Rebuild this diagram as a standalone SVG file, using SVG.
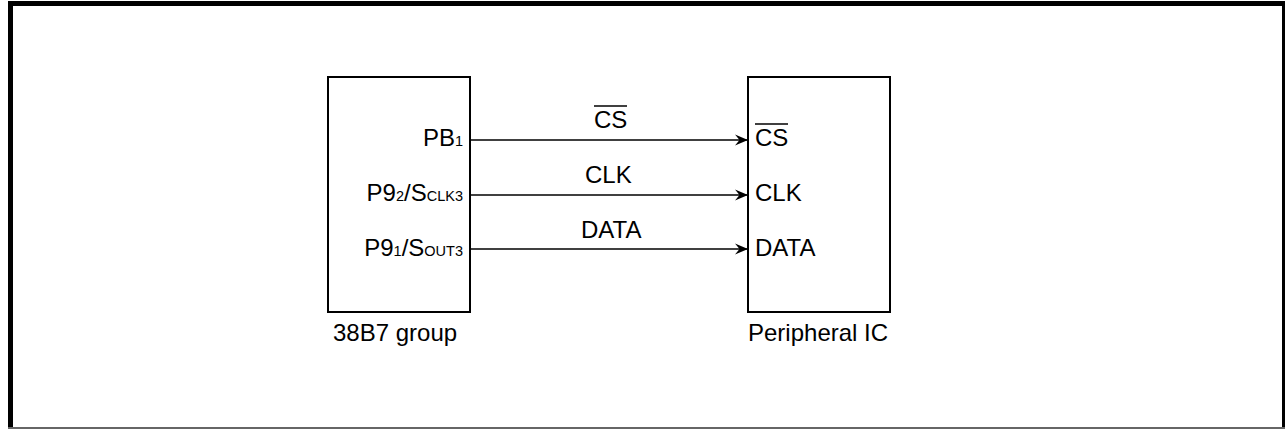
<svg xmlns="http://www.w3.org/2000/svg" width="1285" height="429" viewBox="0 0 1285 429">
<style>
text{font-family:"Liberation Sans",Arial,sans-serif;font-size:24px;fill:#000}
.sub{font-size:14.5px}
.box{fill:#fff;stroke:#000;stroke-width:2}
.wire{stroke:#000;stroke-width:1.3;fill:none}
.ov{stroke:#000;stroke-width:1.5}
</style>
<defs>
<marker id="arr" markerUnits="userSpaceOnUse" markerWidth="14" markerHeight="12" refX="13" refY="6" orient="auto">
<path d="M13,6 L0,0.5 L4.5,6 L0,11.5 Z" fill="#000"/>
</marker>
</defs>
<rect width="1285" height="429" fill="#fff"/>
<g id="frame">
<rect x="8" y="1" width="1277" height="5" fill="#000"/>
<rect x="8" y="1" width="5" height="428" fill="#000"/>
<rect x="1282" y="1" width="3" height="428" fill="#000"/>
<rect x="8" y="427" width="1277" height="2" fill="#666"/>
</g>
<g id="mcu">
<rect class="box" x="328" y="77" width="142" height="235"/>
<text x="463" y="146" text-anchor="end">PB<tspan class="sub">1</tspan></text>
<text x="463" y="201" text-anchor="end">P9<tspan class="sub">2</tspan>/S<tspan class="sub">CLK3</tspan></text>
<text x="463" y="256" text-anchor="end">P9<tspan class="sub">1</tspan>/S<tspan class="sub">OUT3</tspan></text>
<text x="333" y="341">38B7 group</text>
</g>
<g id="peripheral">
<rect class="box" x="748" y="77" width="142" height="235"/>
<text x="755" y="146">CS</text>
<line class="ov" x1="755" y1="124" x2="788" y2="124"/>
<text x="755" y="201">CLK</text>
<text x="755" y="256">DATA</text>
<text x="748" y="341">Peripheral IC</text>
</g>
<g id="connectors">
<line class="wire" x1="471" y1="140" x2="748" y2="140" marker-end="url(#arr)"/>
<line class="wire" x1="471" y1="195" x2="748" y2="195" marker-end="url(#arr)"/>
<line class="wire" x1="471" y1="249" x2="748" y2="249" marker-end="url(#arr)"/>
<text x="594" y="128">CS</text>
<line class="ov" x1="594" y1="106" x2="627" y2="106"/>
<text x="585" y="183">CLK</text>
<text x="581" y="238">DATA</text>
</g>
</svg>
